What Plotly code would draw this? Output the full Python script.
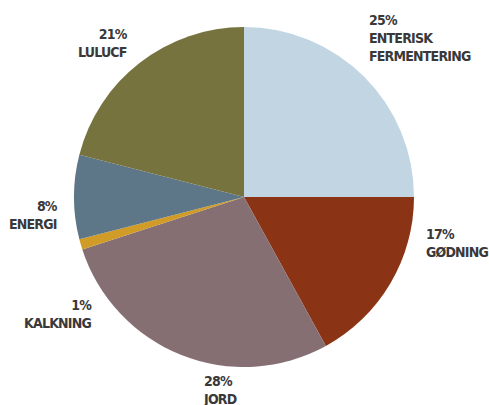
import plotly.graph_objects as go

# Emission shares by source (percent)
categories = ["ENTERISK<br>FERMENTERING", "GØDNING", "JORD", "KALKNING", "ENERGI", "LULUCF"]
values = [25, 17, 28, 1, 8, 21]
colors = ["#c1d5e3", "#8b3415", "#866f73", "#d09b27", "#5d7789", "#77733f"]

# Label placement: (x px, y px from top, horizontal anchor)
label_pos = [
    (368, 11, "left"),
    (425, 225, "left"),
    (202, 372, "left"),
    (93, 296, "right"),
    (59, 197, "right"),
    (129, 25, "right"),
]

W, H = 489, 405
cx, cy, r = 244, 197, 170

fig = go.Figure(
    go.Pie(
        labels=[c.replace("<br>", " ") for c in categories],
        values=values,
        marker=dict(colors=colors, line=dict(width=0)),
        sort=False,
        direction="clockwise",
        rotation=0,
        textinfo="none",
        hoverinfo="label+percent",
        domain=dict(
            x=[(cx - r) / W, (cx + r) / W],
            y=[1 - (cy + r) / H, 1 - (cy - r) / H],
        ),
        showlegend=False,
    )
)

font = dict(family="DejaVu Sans Condensed, DejaVu Sans, sans-serif",
            size=14, color="#3a3839", weight="bold")

for cat, val, (px, py, anchor) in zip(categories, values, label_pos):
    fig.add_annotation(
        x=px / W, y=1 - py / H, xref="paper", yref="paper",
        text=f"<span style='letter-spacing:-0.8px'>{val}%<br>{cat}</span>",
        showarrow=False, xanchor=anchor, yanchor="top", align=anchor,
        font=font, borderpad=0,
    )

fig.update_layout(
    width=W, height=H,
    margin=dict(l=0, r=0, t=0, b=0),
    paper_bgcolor="white", plot_bgcolor="white",
)

fig.write_html("out.html")
